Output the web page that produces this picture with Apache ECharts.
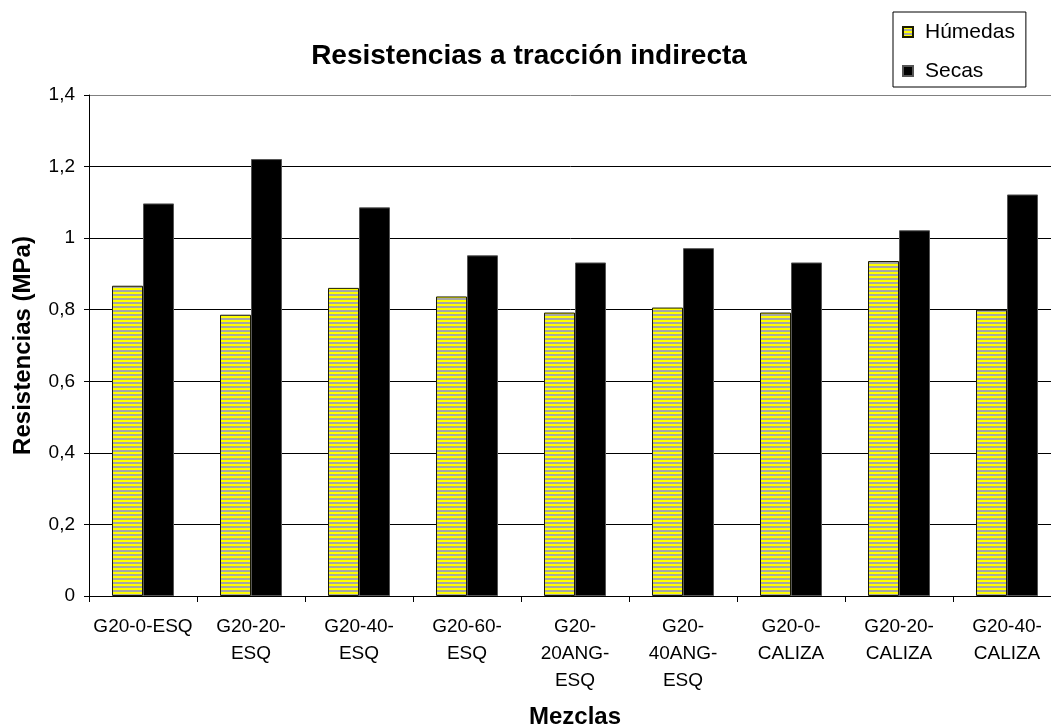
<!DOCTYPE html>
<html>
<head>
<meta charset="utf-8">
<script src="https://cdn.jsdelivr.net/npm/echarts@6/dist/echarts.min.js"></script>
<style>
  html, body { margin: 0; padding: 0; background: #fff; }
  #chart { width: 1051px; height: 727px; }
</style>
</head>
<body>
<div id="chart"></div>
<script>
const categories = ["G20-0-ESQ", "G20-20-ESQ", "G20-40-ESQ", "G20-60-ESQ", "G20-20ANG-ESQ", "G20-40ANG-ESQ", "G20-0-CALIZA", "G20-20-CALIZA", "G20-40-CALIZA"];
const tickLabels = ["G20-0-ESQ", "G20-20-\nESQ", "G20-40-\nESQ", "G20-60-\nESQ", "G20-\n20ANG-\nESQ", "G20-\n40ANG-\nESQ", "G20-0-\nCALIZA", "G20-20-\nCALIZA", "G20-40-\nCALIZA"];
const humedas = [0.867, 0.786, 0.861, 0.837, 0.792, 0.806, 0.792, 0.936, 0.800];
const secas = [1.097, 1.221, 1.086, 0.952, 0.932, 0.972, 0.932, 1.022, 1.122];
const seriesNames = ["Húmedas", "Secas"];
const yMin = 0, yMax = 1.4, yStep = 0.2;

// striped yellow/gray fill
const pat = document.createElement('canvas');
pat.width = 4; pat.height = 4;
const pctx = pat.getContext('2d');
pctx.fillStyle = '#ffff00'; pctx.fillRect(0, 0, 4, 2);
pctx.fillStyle = '#a6a6a6'; pctx.fillRect(0, 2, 4, 2);

const FONT = "'Liberation Sans', Arial, sans-serif";
const chart = echarts.init(document.getElementById('chart'), null, { renderer: 'canvas' });

chart.setOption({
  animation: false,
  backgroundColor: '#ffffff',
  textStyle: { fontFamily: FONT, color: '#000' },
  graphic: [{
    type: 'text',
    style: {
      text: 'Resistencias a tracción indirecta',
      x: 529, y: 56,
      textAlign: 'center', textVerticalAlign: 'middle',
      font: "bold 28px 'Liberation Sans', Arial, sans-serif",
      fill: '#000'
    }
  }],
  legend: {
    orient: 'vertical',
    left: 893, top: 12,
    data: seriesNames,
    borderColor: '#000', borderWidth: 1,
    padding: [9, 11, 5, 9],
    itemWidth: 10, itemHeight: 10,
    itemGap: 17,
    icon: 'rect',
    textStyle: { fontFamily: FONT, fontSize: 21, color: '#000', lineHeight: 22, padding: [0, 0, 0, 7] }
  },
  grid: { left: 89, right: -10, top: 95, bottom: 131, containLabel: false, outerBoundsMode: 'none' },
  xAxis: {
    type: 'category',
    data: categories,
    name: 'Mezclas',
    nameLocation: 'middle',
    nameGap: 109,
    nameTextStyle: { fontFamily: FONT, fontSize: 24, fontWeight: 'bold', color: '#000' },
    axisLine: { show: true, lineStyle: { color: '#000', width: 1 } },
    axisTick: { show: true, length: 6, lineStyle: { color: '#000' } },
    axisLabel: {
      interval: 0, margin: 17,
      fontFamily: FONT, fontSize: 19, color: '#000', lineHeight: 27,
      formatter: (v, i) => tickLabels[i]
    }
  },
  yAxis: {
    type: 'value',
    min: yMin, max: yMax, interval: yStep,
    name: 'Resistencias (MPa)',
    nameLocation: 'middle',
    nameRotate: 90,
    nameGap: 54,
    nameTextStyle: { fontFamily: FONT, fontSize: 24, fontWeight: 'bold', color: '#000' },
    axisLine: { show: true, lineStyle: { color: '#000', width: 1 } },
    axisTick: { show: true, length: 5, lineStyle: { color: '#000' } },
    axisLabel: {
      margin: 14, fontFamily: FONT, fontSize: 19, color: '#000',
      formatter: v => String(Math.round(v * 10) / 10).replace('.', ',')
    },
    splitLine: { show: true, lineStyle: { color: ['#000', '#000', '#000', '#000', '#000', '#000', '#000', '#808080'], width: 1 } }
  },
  series: [
    {
      name: seriesNames[0], type: 'bar', data: humedas,
      barWidth: 31, barGap: '0%',
      itemStyle: { color: { image: pat, repeat: 'repeat' }, borderColor: '#1a1a00', borderWidth: 1 }
    },
    {
      name: seriesNames[1], type: 'bar', data: secas,
      barWidth: 31, barGap: '0%',
      itemStyle: { color: '#000', borderColor: '#555', borderWidth: 1 }
    }
  ]
});
</script>
</body>
</html>
